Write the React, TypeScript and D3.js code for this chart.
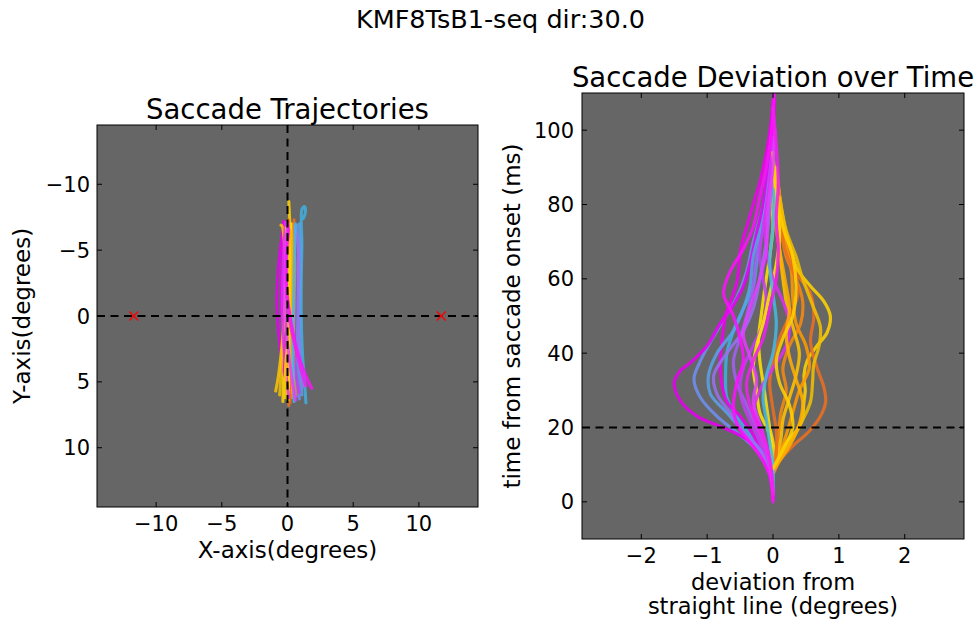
import React from 'react';
import * as d3 from 'd3';

const W = 979;
const H = 623;
const FONT = '"DejaVu Sans", sans-serif';

const suptitle = 'KMF8TsB1-seq dir:30.0';
const leftTitle = 'Saccade Trajectories';
const rightTitle = 'Saccade Deviation over Time';
const leftXLabel = 'X-axis(degrees)';
const leftYLabel = 'Y-axis(degrees)';
const rightXLabel = ['deviation from', 'straight line (degrees)'];
const rightYLabel = 'time from saccade onset (ms)';

const trajTicks = [-10, -5, 0, 5, 10];
const devXTicks = [-2, -1, 0, 1, 2];
const devYTicks = [0, 20, 40, 60, 80, 100];
const targetX = [-11.7, 11.7];
const targetY = [0, 0];
const thresholdTime = 20;

const trialColors = [
  '#ffd400', '#6f8ff0', '#ec7020', '#e600f0', '#f0c000', '#3fb0e0',
  '#ff9a00', '#a060f0', '#ffe000', '#f000f0', '#f58a10', '#5aa0e8',
  '#ffc400', '#c040f0', '#e86f20', '#9a70f0', '#ffe500', '#dd30f0',
  '#ffae00', '#48b8e0', '#ffd000', '#ff10ff', '#e040ff', '#f020f0',
];

// [deviation (deg), time (ms)]
const deviationCurves: [number, number][][] = [
  [[0, 8], [0.05, 12], [0.2, 16], [0.35, 19], [0.44, 22], [0.47, 27], [0.49, 30], [0.47, 34], [0.52, 38], [0.67, 42], [0.82, 45.5], [0.87, 50], [0.77, 54], [0.57, 58], [0.37, 62.5], [0.3, 66], [0.2, 72], [0.12, 80], [0.05, 90]],
  [[0, 2], [-0.05, 8], [-0.2, 13], [-0.5, 18], [-0.85, 23], [-1.1, 28], [-1.2, 33], [-1.1, 38], [-0.95, 43], [-0.75, 49], [-0.55, 55], [-0.4, 62], [-0.3, 70], [-0.15, 80], [-0.05, 92]],
  [[0.02, 8], [0.1, 11], [0.3, 15], [0.55, 19], [0.72, 23], [0.8, 27], [0.77, 31], [0.67, 36], [0.57, 43], [0.62, 50], [0.57, 56], [0.32, 62.5], [0.22, 70], [0.14, 77], [0.08, 85]],
  [[0, 1], [-0.02, 6], [-0.09, 10.4], [-0.39, 16.7], [-0.8, 20.3], [-1.15, 23], [-1.4, 27], [-1.5, 32], [-1.42, 35], [-1.25, 37.5], [-1.0, 42], [-0.8, 48], [-0.6, 53], [-0.45, 58], [-0.35, 64], [-0.25, 72], [-0.15, 80], [-0.07, 90], [0, 100], [0.02, 108]],
  [[0, 9], [0.1, 12], [0.3, 17], [0.45, 22], [0.57, 27], [0.6, 32], [0.62, 37], [0.7, 42], [0.72, 47], [0.6, 53], [0.45, 60], [0.35, 66], [0.2, 73], [0.1, 82]],
  [[0, 2], [-0.05, 8], [-0.15, 13], [-0.35, 18], [-0.55, 23], [-0.7, 28], [-0.72, 34], [-0.7, 40], [-0.6, 46], [-0.45, 52], [-0.3, 58], [-0.25, 64], [-0.2, 70], [-0.1, 80], [0, 90]],
  [[0, 9], [0.1, 13], [0.2, 18], [0.3, 24], [0.4, 30], [0.55, 36], [0.5, 42], [0.35, 48], [0.3, 55], [0.28, 62], [0.18, 70], [0.08, 80]],
  [[0, 2], [-0.03, 8], [-0.1, 14], [-0.25, 20], [-0.4, 26], [-0.55, 32], [-0.6, 38], [-0.5, 44], [-0.4, 50], [-0.3, 58], [-0.25, 66], [-0.15, 74], [-0.08, 84], [0, 96]],
  [[0, 8], [0.02, 12], [0, 16], [-0.05, 20], [-0.1, 26], [-0.15, 32], [-0.2, 38], [-0.22, 44], [-0.18, 50], [-0.12, 58], [-0.05, 66], [0, 75], [-0.05, 85]],
  [[0, 1], [-0.05, 7], [-0.15, 12], [-0.3, 18], [-0.5, 23], [-0.7, 27], [-0.78, 32], [-0.8, 38], [-0.77, 44], [-0.72, 50], [-0.55, 59], [-0.49, 68], [-0.4, 74], [-0.3, 80], [-0.2, 86], [-0.1, 94], [-0.03, 102], [0, 108]],
  [[0, 9], [0.04, 13], [0.08, 18], [0.12, 24], [0.2, 30], [0.15, 36], [0.25, 42], [0.42, 48], [0.45, 54], [0.35, 60], [0.2, 66], [0.12, 74], [0.05, 84]],
  [[0, 3], [-0.05, 9], [-0.2, 14], [-0.45, 19], [-0.7, 24], [-0.95, 29], [-0.98, 34], [-0.85, 40], [-0.6, 46], [-0.45, 52], [-0.35, 58], [-0.3, 66], [-0.15, 76], [-0.05, 86]],
  [[0, 9], [0.05, 12], [0.12, 17], [0.15, 22], [0.25, 28], [0.35, 34], [0.4, 40], [0.32, 46], [0.22, 52], [0.15, 60], [0.1, 68], [0.05, 78], [0, 88]],
  [[0, 2], [-0.05, 8], [-0.15, 14], [-0.3, 20], [-0.45, 26], [-0.5, 30], [-0.45, 36], [-0.3, 42], [-0.15, 48], [-0.1, 54], [-0.15, 60], [-0.2, 66], [-0.15, 74], [-0.05, 84], [0, 96]],
  [[0, 8], [0.05, 13], [0.05, 19], [0.0, 25], [-0.05, 32], [0.0, 38], [0.1, 44], [0.25, 50], [0.38, 56], [0.3, 62], [0.18, 68], [0.1, 76]],
  [[0, 3], [-0.05, 9], [-0.2, 14], [-0.45, 19], [-0.65, 24], [-0.85, 29], [-0.9, 34], [-0.7, 40], [-0.45, 46], [-0.3, 52], [-0.2, 60], [-0.12, 68], [-0.05, 78], [0, 88]],
  [[0, 8], [-0.02, 12], [-0.05, 18], [-0.2, 24], [-0.25, 30], [-0.3, 36], [-0.25, 42], [-0.15, 48], [-0.05, 56], [0.05, 64], [0.1, 72], [0.05, 82], [0, 92]],
  [[0, 2], [-0.03, 8], [-0.1, 13], [-0.2, 18], [-0.3, 24], [-0.2, 30], [0, 36], [0.2, 42], [0.25, 48], [0.15, 54], [0.0, 60], [-0.1, 68], [-0.12, 76], [-0.05, 86], [0, 98]],
  [[0, 8], [0.1, 11], [0.25, 15], [0.4, 21], [0.45, 27], [0.35, 33], [0.25, 39], [0.2, 45], [0.25, 52], [0.18, 60], [0.08, 70], [0, 80]],
  [[0, 4], [0, 10], [-0.05, 16], [-0.1, 22], [-0.15, 28], [-0.1, 34], [0, 40], [0.05, 48], [0, 56], [-0.05, 64], [0, 74], [0.02, 84]],
  [[0, 9], [0.15, 14], [0.3, 20], [0.25, 26], [0.1, 32], [0.05, 38], [0.15, 44], [0.3, 50], [0.35, 58], [0.3, 66], [0.15, 74], [0.05, 84], [0, 94]],
  [[0, 0], [-0.03, 6], [-0.15, 11], [-0.35, 16], [-0.55, 21], [-0.6, 26], [-0.55, 32], [-0.45, 38], [-0.5, 44], [-0.6, 50], [-0.75, 56], [-0.65, 62], [-0.45, 68], [-0.3, 74], [-0.2, 82], [-0.1, 90], [-0.02, 100], [0.02, 110]],
  [[0, 3], [-0.04, 9], [-0.1, 15], [-0.2, 21], [-0.3, 27], [-0.25, 33], [-0.35, 39], [-0.45, 45], [-0.35, 52], [-0.2, 60], [-0.1, 68], [-0.08, 78], [0, 90], [0.03, 100]],
  [[0, 2], [-0.02, 8], [-0.08, 14], [-0.2, 20], [-0.35, 26], [-0.4, 32], [-0.3, 38], [-0.15, 44], [-0.05, 52], [0.05, 60], [0.08, 68], [0.05, 76], [0.08, 86], [0.05, 96], [0, 106]],
];

// [x (deg), y (deg)]
const trajectories: [number, number][][] = [
  [[-0.35, 6.5], [-0.3, 4.5], [-0.1, 2.5], [0.1, 0], [0.22, -2.5], [0.25, -5], [0.18, -7], [0.1, -8.7]],
  [[0.9, 6.3], [0.8, 4.5], [0.75, 2], [0.8, -0.5], [0.85, -3], [0.8, -5.5], [0.7, -6.9]],
  [[0.1, 6.8], [0.05, 5], [0.1, 2.5], [0.25, 0], [0.35, -2.5], [0.4, -5], [0.45, -6.8], [0.5, -7.3]],
  [[0.3, 6.0], [-0.2, 4.5], [-0.6, 2], [-0.8, -0.5], [-0.75, -3], [-0.5, -5.5], [-0.25, -7.0]],
  [[-0.6, 6.0], [-0.5, 4.5], [-0.35, 2], [-0.2, -1], [-0.15, -3.5], [-0.2, -5.5], [-0.3, -6.5]],
  [[1.4, 6.6], [1.3, 5], [1.15, 3], [1.05, 0], [1.05, -3], [1.1, -5.5], [1.05, -7.3], [1.1, -8.1], [1.3, -8.3], [1.35, -7.8], [1.2, -7.4]],
  [[0.3, 6.2], [0.25, 4], [0.3, 1.5], [0.4, -1], [0.45, -3.5], [0.4, -5.5], [0.3, -6.5]],
  [[0.7, 6.1], [0.55, 4.5], [0.5, 2], [0.55, -1], [0.6, -3.5], [0.55, -5.5], [0.45, -6.8]],
  [[0.0, 6.3], [0.05, 4], [0.15, 1.5], [0.2, -1], [0.2, -3.5], [0.1, -5.5], [-0.05, -6.6]],
  [[0.5, 5.9], [0.1, 4.5], [-0.25, 2], [-0.45, -0.5], [-0.45, -3], [-0.35, -5.5], [-0.3, -7.2]],
  [[0.6, 6.0], [0.5, 4], [0.45, 1.5], [0.5, -1.5], [0.55, -4], [0.45, -6], [0.35, -7.0]],
  [[1.1, 6.0], [1.0, 4.5], [0.95, 2], [0.95, -0.5], [1.0, -3], [1.0, -5.5], [0.9, -7.0]],
  [[-0.9, 5.7], [-0.7, 4.6], [-0.45, 2.5], [-0.25, 0], [-0.15, -2.5], [-0.2, -5], [-0.4, -6.8], [-0.5, -6.9]],
  [[0.9, 5.8], [0.6, 4.2], [0.3, 2], [0.1, -0.5], [0.0, -3], [0.05, -5.5], [0.15, -7.0]],
  [[0.2, 6.6], [0.1, 4.5], [0.05, 2], [0.1, -0.5], [0.15, -3], [0.15, -5.5], [0.05, -7.3]],
  [[1.2, 5.4], [1.0, 4], [0.85, 1.5], [0.8, -1], [0.85, -3.5], [0.8, -5.5], [0.6, -6.5]],
  [[0.05, 6.4], [0.1, 4.5], [0.15, 2], [0.2, -0.5], [0.2, -3], [0.25, -5.5], [0.25, -7]],
  [[0.1, 6.2], [-0.1, 4.5], [-0.3, 2], [-0.4, -0.5], [-0.35, -3], [-0.25, -5.5], [-0.15, -7.1]],
  [[0.4, 5.8], [0.3, 4], [0.3, 1.5], [0.35, -1], [0.4, -3.5], [0.35, -5.5], [0.25, -6.4]],
  [[0.5, 6.5], [0.45, 4.5], [0.4, 2], [0.45, -0.5], [0.5, -3], [0.55, -5.5], [0.6, -7.0]],
  [[-0.2, 6.2], [-0.15, 4], [0.05, 1.5], [0.15, -1], [0.1, -3.5], [0.0, -5.5], [-0.1, -6.7]],
  [[1.85, 5.5], [1.3, 4.3], [0.7, 2.5], [0.2, 0], [-0.1, -2.5], [-0.1, -5], [0.05, -6.9]],
  [[0.6, 6.4], [0.3, 4.5], [0.0, 2], [-0.2, -0.5], [-0.2, -3], [-0.1, -5.5], [0.0, -7.1]],
  [[1.4, 5.3], [1.0, 4.0], [0.5, 2], [0.1, 0], [-0.1, -2.5], [-0.05, -5], [0.1, -6.6]],
];

const fmt = (v: number) => (v < 0 ? '\u2212' + Math.abs(v) : String(v));

export default function App() {
  const L = { x0: 97, x1: 478, y0: 125, y1: 507 };
  const lx = d3.scaleLinear().domain([-14.5, 14.5]).range([L.x0, L.x1]);
  const ly = d3.scaleLinear().domain([-14.5, 14.5]).range([L.y0, L.y1]);
  const R = { x0: 582, x1: 964, y0: 93, y1: 539 };
  const rx = d3.scaleLinear().domain([-2.9, 2.9]).range([R.x0, R.x1]);
  const ry = d3.scaleLinear().domain([-10, 110]).range([R.y1, R.y0]);

  const lLine = d3
    .line<[number, number]>()
    .x((d) => lx(d[0]))
    .y((d) => ly(d[1]))
    .curve(d3.curveCatmullRom.alpha(0.5));
  const rLine = d3
    .line<[number, number]>()
    .x((d) => rx(d[0]))
    .y((d) => ry(d[1]))
    .curve(d3.curveCatmullRom.alpha(0.5));

  const tickLen = 5;
  const dash = '8,5.5';

  return (
    <svg
      width={W}
      height={H}
      viewBox={`0 0 ${W} ${H}`}
      style={{ position: 'absolute', left: 0, top: 0, background: '#fff' }}
      fontFamily={FONT}
    >
      <defs>
        <clipPath id="clipL">
          <rect x={L.x0} y={L.y0} width={L.x1 - L.x0} height={L.y1 - L.y0} />
        </clipPath>
        <clipPath id="clipR">
          <rect x={R.x0} y={R.y0} width={R.x1 - R.x0} height={R.y1 - R.y0} />
        </clipPath>
      </defs>
      <rect x={0} y={0} width={W} height={H} fill="#ffffff" />

      <text x={500.5} y={28} textAnchor="middle" fontSize={25.5} fill="#000">
        {suptitle}
      </text>

      {/* LEFT PANEL */}
      <rect x={L.x0} y={L.y0} width={L.x1 - L.x0} height={L.y1 - L.y0} fill="#666666" />
      <g clipPath="url(#clipL)">
        {trajectories.map((tr, i) => (
          <path
            key={i}
            d={lLine(tr) || ''}
            fill="none"
            stroke={trialColors[i]}
            strokeWidth={3}
            strokeOpacity={0.85}
            strokeLinejoin="round"
            strokeLinecap="round"
          />
        ))}
        <line x1={L.x0} x2={L.x1} y1={ly(0)} y2={ly(0)} stroke="#000" strokeWidth={2} strokeDasharray={dash} />
        <line x1={lx(0)} x2={lx(0)} y1={L.y0} y2={L.y1} stroke="#000" strokeWidth={2} strokeDasharray={dash} />
        {targetX.map((tx, i) => {
          const cx = lx(tx);
          const cy = ly(targetY[i]);
          const s = 4.5;
          return (
            <g key={i} stroke="#ff0000" strokeWidth={1.4}>
              <line x1={cx - s} y1={cy - s} x2={cx + s} y2={cy + s} />
              <line x1={cx - s} y1={cy + s} x2={cx + s} y2={cy - s} />
            </g>
          );
        })}
      </g>
      <rect x={L.x0} y={L.y0} width={L.x1 - L.x0} height={L.y1 - L.y0} fill="none" stroke="#000" strokeWidth={1} />
      {trajTicks.map((t) => (
        <g key={'lx' + t}>
          <line x1={lx(t)} x2={lx(t)} y1={L.y1} y2={L.y1 - tickLen} stroke="#000" />
          <line x1={lx(t)} x2={lx(t)} y1={L.y0} y2={L.y0 + tickLen} stroke="#000" />
          <text x={lx(t)} y={L.y1 + 24} textAnchor="middle" fontSize={21}>
            {fmt(t)}
          </text>
        </g>
      ))}
      {trajTicks.map((t) => (
        <g key={'ly' + t}>
          <line x1={L.x0} x2={L.x0 + tickLen} y1={ly(t)} y2={ly(t)} stroke="#000" />
          <line x1={L.x1} x2={L.x1 - tickLen} y1={ly(t)} y2={ly(t)} stroke="#000" />
          <text x={L.x0 - 7} y={ly(t)} dy="0.36em" textAnchor="end" fontSize={21}>
            {fmt(t)}
          </text>
        </g>
      ))}
      <text x={(L.x0 + L.x1) / 2} y={119} textAnchor="middle" fontSize={27.5}>
        {leftTitle}
      </text>
      <text x={(L.x0 + L.x1) / 2} y={558} textAnchor="middle" fontSize={23}>
        {leftXLabel}
      </text>
      <text transform={`translate(30,${(L.y0 + L.y1) / 2}) rotate(-90)`} textAnchor="middle" fontSize={23}>
        {leftYLabel}
      </text>

      {/* RIGHT PANEL */}
      <rect x={R.x0} y={R.y0} width={R.x1 - R.x0} height={R.y1 - R.y0} fill="#666666" />
      <g clipPath="url(#clipR)">
        {deviationCurves.map((c, i) => (
          <path
            key={i}
            d={rLine(c) || ''}
            fill="none"
            stroke={trialColors[i]}
            strokeWidth={3.2}
            strokeOpacity={0.88}
            strokeLinejoin="round"
            strokeLinecap="round"
          />
        ))}
        <line x1={R.x0} x2={R.x1} y1={ry(thresholdTime)} y2={ry(thresholdTime)} stroke="#000" strokeWidth={2} strokeDasharray={dash} />
      </g>
      <rect x={R.x0} y={R.y0} width={R.x1 - R.x0} height={R.y1 - R.y0} fill="none" stroke="#000" strokeWidth={1} />
      {devXTicks.map((t) => (
        <g key={'rx' + t}>
          <line x1={rx(t)} x2={rx(t)} y1={R.y1} y2={R.y1 - tickLen} stroke="#000" />
          <line x1={rx(t)} x2={rx(t)} y1={R.y0} y2={R.y0 + tickLen} stroke="#000" />
          <text x={rx(t)} y={R.y1 + 24} textAnchor="middle" fontSize={21}>
            {fmt(t)}
          </text>
        </g>
      ))}
      {devYTicks.map((t) => (
        <g key={'ry' + t}>
          <line x1={R.x0} x2={R.x0 + tickLen} y1={ry(t)} y2={ry(t)} stroke="#000" />
          <line x1={R.x1} x2={R.x1 - tickLen} y1={ry(t)} y2={ry(t)} stroke="#000" />
          <text x={R.x0 - 8} y={ry(t)} dy="0.36em" textAnchor="end" fontSize={21}>
            {fmt(t)}
          </text>
        </g>
      ))}
      <text x={(R.x0 + R.x1) / 2} y={87} textAnchor="middle" fontSize={27.5}>
        {rightTitle}
      </text>
      {rightXLabel.map((s, i) => (
        <text key={i} x={(R.x0 + R.x1) / 2} y={590 + i * 24} textAnchor="middle" fontSize={22.5}>
          {s}
        </text>
      ))}
      <text transform={`translate(520,${(R.y0 + R.y1) / 2}) rotate(-90)`} textAnchor="middle" fontSize={23}>
        {rightYLabel}
      </text>
    </svg>
  );
}
